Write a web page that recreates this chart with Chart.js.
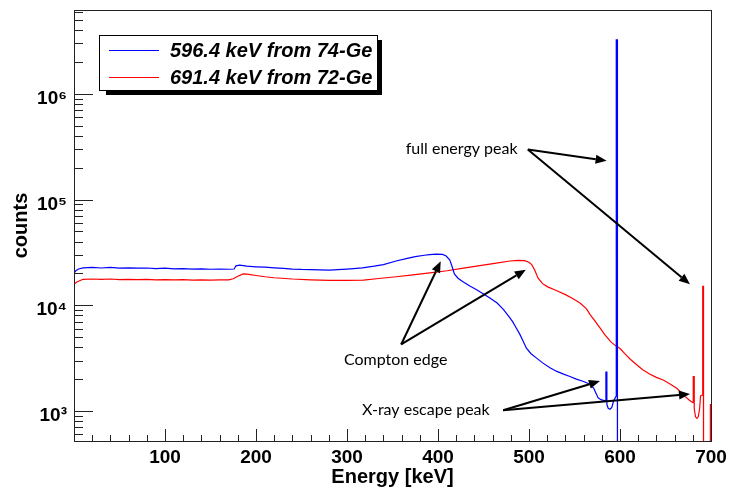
<!DOCTYPE html>
<html>
<head>
<meta charset="utf-8">
<title>Ge gamma spectra</title>
<script src="https://cdn.jsdelivr.net/npm/chart.js@4.4.1/dist/chart.umd.min.js"></script>
<style>
  html, body { margin: 0; padding: 0; background: #fff; }
  #wrap { width: 729px; height: 489px; }
</style>
</head>
<body>
<div id="wrap"><canvas id="spectrum" width="729" height="489"></canvas></div>
<script>
// Series (energy in keV, counts per bin)
const seriesLabels = ['596.4 keV from 74-Ge', '691.4 keV from 72-Ge'];
const seriesColors = ['#0000ff', '#ff0000'];

const blueEnergy = [0, 2, 5, 10, 20, 30, 40, 50, 60, 70, 80, 90, 100, 110, 120, 130, 140, 150, 160, 170,
    176, 178, 182, 186, 190, 200, 210, 220, 230, 240, 250, 260, 270, 281, 290, 300, 317, 330, 340, 354,
    365, 375, 385, 391, 398, 405, 409, 413, 416, 418, 422, 427, 435, 442, 450, 457, 465, 472, 478, 482,
    486, 490, 494, 497, 502, 508, 515, 523, 530, 538, 545, 552, 560, 567, 571, 574, 576, 579, 582,
    584.4, 584.5, 585.5, 585.6, 587, 589, 591, 593, 595.8, 595.9, 597.1, 597.2];
const blueCounts = [20000, 21200, 22000, 22600, 22800, 22500, 22800, 22400, 22600, 22400, 22500, 22200, 22400, 22100, 22200, 22000, 22100, 21900, 22000, 21900,
    22000, 23600, 24000, 23700, 23400, 23100, 22900, 22600, 22300, 22000, 21800, 21700, 21600, 21500, 21700, 22000, 22600, 23400, 24200, 26200,
    27600, 28800, 29700, 30100, 30500, 30300, 29200, 26800, 22500, 19800, 18000, 16800, 15200, 14100, 12800, 11700, 10500, 9100, 7800, 7000,
    6100, 5300, 4500, 3950, 3500, 3180, 2850, 2560, 2380, 2230, 2120, 2000, 1900, 1790, 1650, 1450, 1330, 1280, 1260,
    1250, 2330, 2330, 1150, 1060, 1040, 1080, 1250, 1380, 3230000, 3230000, 1];

const redEnergy = [0, 3, 10, 20, 30, 40, 50, 60, 70, 80, 90, 100, 110, 120, 130, 140, 150, 160, 170, 175,
    180, 186, 190, 200, 210, 220, 240, 260, 281, 300, 318, 335, 354, 370, 391, 410, 428, 446, 464, 479,
    488, 495, 500, 503, 506, 510, 515, 520, 530, 540, 548, 556, 563, 567, 572, 578, 583, 590, 595, 600,
    605, 611, 618, 625, 632, 640, 648, 655, 662, 667, 672, 676, 678, 680.4, 680.5, 681.5, 681.6, 683, 684.5, 686,
    687.5, 688.5, 689.5, 690.8, 690.9, 691.7, 691.8, 699.2, 699.3, 700];
const redCounts = [15800, 16600, 17600, 17700, 17600, 17700, 17500, 17600, 17500, 17600, 17400, 17500, 17400, 17500, 17300, 17400, 17300, 17400, 17400, 17800,
    18800, 19800, 19700, 19100, 18600, 18200, 17700, 17400, 17200, 17200, 17300, 17900, 18600, 19300, 20200, 21200, 22400, 23700, 25000, 26200,
    26600, 26400, 25500, 24200, 21800, 18000, 16000, 15000, 13800, 12600, 11600, 10500, 9300, 8200, 7200, 6100, 5300, 4500, 4150, 3900,
    3500, 3100, 2750, 2450, 2250, 2080, 1950, 1800, 1650, 1500, 1360, 1270, 1230, 1200, 2110, 2110, 1050, 880, 850, 880,
    1050, 1390, 1400, 1420, 15100, 15100, 1, 1, 1150, 1150];

// Axis ranges and tick labels
const xMin = 0, xMax = 700, xMinorStep = 20;
const xTickLabels = [100, 200, 300, 400, 500, 600, 700];
const yMin = 520, yMax = 6.2e6;
const yDecades = [1e3, 1e4, 1e5, 1e6];
const yDecadeLabels = ['10³', '10⁴', '10⁵', '10⁶'];

// Annotations (anchor points in keV / counts)
const notes = [
    { text: 'full energy peak', at: [426, 3.0e5], from: [498.7, 2.97e5], to: [[585.3, 2.32e5], [676.9, 1.58e4]] },
    { text: 'Compton edge', at: [353.5, 3026], from: [359.5, 4255], to: [[403, 2.6e4], [496.5, 2.17e4]] },
    { text: 'X-ray escape peak', at: [386.6, 1021], from: [471.6, 1017], to: [[578, 1919], [676.9, 1446]] }
];

const AXIS_FONT = 'Liberation Sans, Arial, Helvetica, sans-serif';

function toPoints(xs, ys) {
    return xs.map((x, i) => ({ x: x, y: ys[i] }));
}

// White background
const bgPlugin = {
    id: 'bg',
    beforeDraw(chart) {
        const ctx = chart.ctx;
        ctx.save();
        ctx.fillStyle = '#ffffff';
        ctx.fillRect(0, 0, chart.width, chart.height);
        ctx.restore();
    }
};

// ROOT style frame with inward ticks
const framePlugin = {
    id: 'frame',
    afterDatasetsDraw(chart) {
        const ctx = chart.ctx;
        const a = chart.chartArea;
        const xs = chart.scales.x;
        const ys = chart.scales.y;
        ctx.save();
        ctx.strokeStyle = '#222';
        ctx.lineWidth = 1;
        ctx.beginPath();
        // x ticks
        xs.ticks.forEach(t => {
            const px = Math.round(xs.getPixelForValue(t.value)) + 0.5;
            const len = t.value % 100 === 0 ? 12 : 6;
            ctx.moveTo(px, a.bottom);
            ctx.lineTo(px, a.bottom - len);
        });
        // y ticks (1..9 x 10^n)
        ys.ticks.forEach(t => {
            const v = t.value;
            const m = v / Math.pow(10, Math.floor(Math.log10(v) + 1e-9));
            if (Math.abs(m - Math.round(m)) > 1e-6) return;
            const py = Math.round(ys.getPixelForValue(v)) + 0.5;
            const len = Math.round(m) === 1 ? 19 : 9;
            ctx.moveTo(a.left, py);
            ctx.lineTo(a.left + len, py);
        });
        ctx.stroke();
        ctx.strokeRect(Math.round(a.left) + 0.5, Math.round(a.top) + 0.5,
            Math.round(a.right - a.left), Math.round(a.bottom - a.top));
        ctx.restore();
    }
};

function drawArrow(ctx, x0, y0, x1, y1) {
    const ang = Math.atan2(y1 - y0, x1 - x0);
    const head = 11, half = 4.5;
    const bx = x1 - head * Math.cos(ang), by = y1 - head * Math.sin(ang);
    ctx.beginPath();
    ctx.moveTo(x0, y0);
    ctx.lineTo(bx, by);
    ctx.stroke();
    ctx.beginPath();
    ctx.moveTo(x1, y1);
    ctx.lineTo(bx + half * Math.sin(ang), by - half * Math.cos(ang));
    ctx.lineTo(bx - half * Math.sin(ang), by + half * Math.cos(ang));
    ctx.closePath();
    ctx.fill();
}

// Legend box with shadow + the text/arrow annotations
const overlayPlugin = {
    id: 'overlay',
    afterDraw(chart) {
        const ctx = chart.ctx;
        const xs = chart.scales.x;
        const ys = chart.scales.y;
        ctx.save();

        // legend
        ctx.fillStyle = '#000';
        ctx.fillRect(106, 40, 276, 55);
        ctx.fillStyle = '#fff';
        ctx.fillRect(99, 35, 279, 56);
        ctx.strokeStyle = '#000';
        ctx.lineWidth = 1;
        ctx.strokeRect(99.5, 35.5, 278, 55);
        chart.data.datasets.forEach((ds, i) => {
            const y = 50 + i * 27;
            ctx.strokeStyle = ds.borderColor;
            ctx.lineWidth = 1.2;
            ctx.beginPath();
            ctx.moveTo(109, y + 0.5);
            ctx.lineTo(159, y + 0.5);
            ctx.stroke();
            ctx.fillStyle = '#000';
            ctx.font = 'italic bold 20px ' + AXIS_FONT;
            ctx.textAlign = 'left';
            ctx.textBaseline = 'middle';
            ctx.fillText(ds.label, 170, y + 1);
        });

        // annotations
        ctx.strokeStyle = '#000';
        ctx.fillStyle = '#000';
        ctx.lineWidth = 2;
        notes.forEach(n => {
            const fx = xs.getPixelForValue(n.from[0]), fy = ys.getPixelForValue(n.from[1]);
            n.to.forEach(p => {
                drawArrow(ctx, fx, fy, xs.getPixelForValue(p[0]), ys.getPixelForValue(p[1]));
            });
            ctx.font = '16px Lato, "Open Sans", sans-serif';
            ctx.textAlign = 'center';
            ctx.textBaseline = 'middle';
            ctx.fillText(n.text, xs.getPixelForValue(n.at[0]), ys.getPixelForValue(n.at[1]));
        });
        ctx.restore();
    }
};

const chart = new Chart(document.getElementById('spectrum'), {
    type: 'line',
    data: {
        datasets: [
            {
                label: seriesLabels[0],
                data: toPoints(blueEnergy, blueCounts),
                borderColor: seriesColors[0],
                borderWidth: 1.2
            },
            {
                label: seriesLabels[1],
                data: toPoints(redEnergy, redCounts),
                borderColor: seriesColors[1],
                borderWidth: 1.2
            }
        ]
    },
    options: {
        responsive: false,
        animation: false,
        devicePixelRatio: 1,
        layout: { padding: { top: 10, right: 18, left: 0, bottom: 0 } },
        elements: {
            point: { radius: 0 },
            line: { tension: 0, fill: false }
        },
        plugins: {
            legend: { display: false },
            tooltip: { enabled: false }
        },
        scales: {
            x: {
                type: 'linear',
                min: xMin,
                max: xMax,
                grid: { display: false, drawTicks: false },
                border: { display: false },
                ticks: {
                    stepSize: xMinorStep,
                    autoSkip: false,
                    maxRotation: 0,
                    padding: 5,
                    color: '#000',
                    font: { family: AXIS_FONT, size: 19, weight: 'bold' },
                    callback: v => xTickLabels.includes(v) ? String(v) : ''
                },
                title: {
                    display: true,
                    text: 'Energy [keV]',
                    color: '#000',
                    font: { family: AXIS_FONT, size: 20, weight: 'bold' },
                    padding: { top: 0, bottom: 0 }
                },
                afterFit: s => {
                    s.height = 48;
                    s.paddingLeft = 0;
                    s.paddingRight = 0;
                }
            },
            y: {
                type: 'logarithmic',
                min: yMin,
                max: yMax,
                grid: { display: false, drawTicks: false },
                border: { display: false },
                ticks: {
                    autoSkip: false,
                    padding: 7,
                    labelOffset: 5,
                    color: '#000',
                    font: { family: AXIS_FONT, size: 19, weight: 'bold' },
                    callback: v => {
                        const i = yDecades.indexOf(v);
                        return i >= 0 ? yDecadeLabels[i] : '';
                    }
                },
                title: {
                    display: true,
                    text: 'counts',
                    color: '#000',
                    font: { family: AXIS_FONT, size: 20, weight: 'bold' },
                    padding: { top: 9, bottom: 0 }
                },
                afterFit: s => {
                    s.width = 74;
                    s.paddingTop = 0;
                    s.paddingBottom = 0;
                }
            }
        }
    },
    plugins: [bgPlugin, framePlugin, overlayPlugin]
});
</script>
</body>
</html>
